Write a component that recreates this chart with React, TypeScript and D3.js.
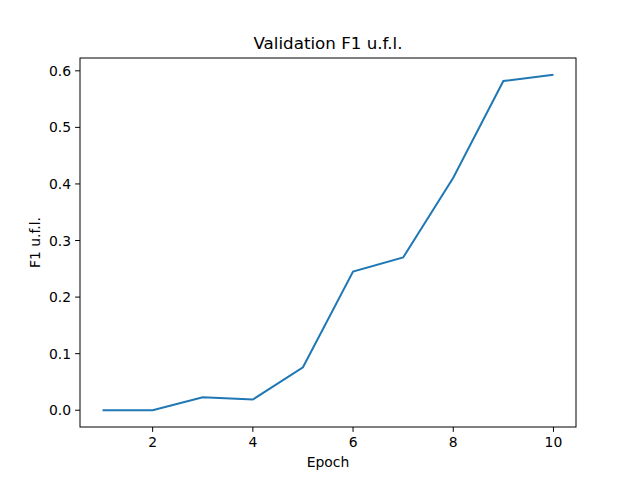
import React from "react";
import * as d3 from "d3";

const epochs = [1, 2, 3, 4, 5, 6, 7, 8, 9, 10];
const f1 = [0.0, 0.0, 0.023, 0.019, 0.076, 0.245, 0.27, 0.411, 0.582, 0.593];
const xTicks = [2, 4, 6, 8, 10];
const yTicks = [0, 0.1, 0.2, 0.3, 0.4, 0.5, 0.6];

export default function App() {
  const W = 640, H = 480;
  const L = 80, R = 576, T = 58, B = 427;
  const xPad = (10 - 1) * 0.05;
  const x = d3.scaleLinear().domain([1 - xPad, 10 + xPad]).range([L, R]);
  const yMax = d3.max(f1)!;
  const yPad = yMax * 0.05;
  const y = d3.scaleLinear().domain([-yPad, yMax + yPad]).range([B, T]);
  const line = d3.line<number>().x((_, i) => x(epochs[i])).y((d) => y(d));
  const font = "DejaVu Sans, sans-serif";
  return (
    <div style={{ position: "fixed", left: 0, top: 0 }}>
      <svg width={W} height={H} style={{ display: "block", background: "#fff" }}>
        <path d={line(f1)!} fill="none" stroke="#1f77b4" strokeWidth={2} />
        <rect x={L} y={T} width={R - L} height={B - T} fill="none" stroke="#000" strokeWidth={1} />
        {xTicks.map((t) => (
          <g key={t}>
            <line x1={x(t)} x2={x(t)} y1={B} y2={B + 4.9} stroke="#000" strokeWidth={1} />
            <text x={x(t)} y={B + 20} textAnchor="middle" fontSize={13.9} fontFamily={font}>{t}</text>
          </g>
        ))}
        {yTicks.map((t) => (
          <g key={t}>
            <line x1={L - 4.9} x2={L} y1={y(t)} y2={y(t)} stroke="#000" strokeWidth={1} />
            <text x={L - 9} y={y(t) + 5} textAnchor="end" fontSize={13.9} fontFamily={font}>{t.toFixed(1)}</text>
          </g>
        ))}
        <text x={(L + R) / 2} y={467} textAnchor="middle" fontSize={13.9} fontFamily={font}>Epoch</text>
        <text transform={`translate(40,${(T + B) / 2}) rotate(-90)`} textAnchor="middle" fontSize={13.9} fontFamily={font}>F1 u.f.l.</text>
        <text x={(L + R) / 2} y={49} textAnchor="middle" fontSize={16.7} fontFamily={font}>Validation F1 u.f.l.</text>
      </svg>
    </div>
  );
}
